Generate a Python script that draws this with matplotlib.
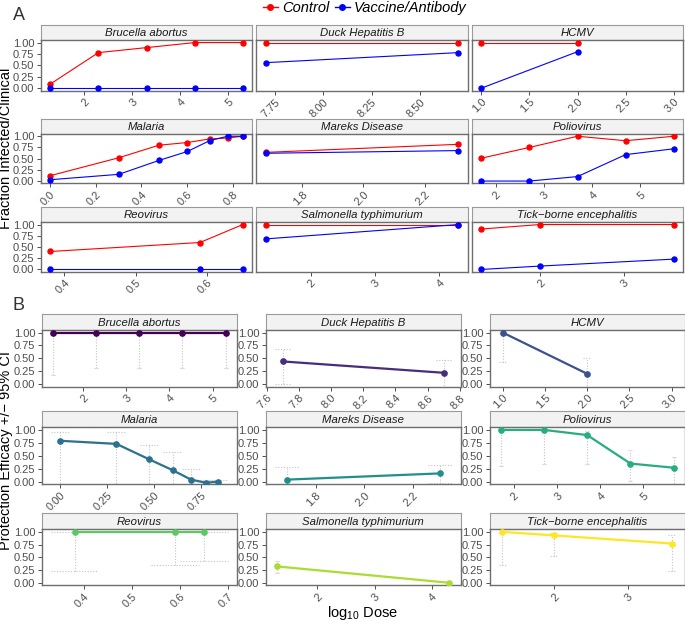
import numpy as np
import matplotlib
matplotlib.use("Agg")
import matplotlib.pyplot as plt
from matplotlib.lines import Line2D

plt.rcParams['font.family'] = ['Liberation Sans', 'DejaVu Sans']
plt.rcParams['mathtext.fontset'] = 'custom'
plt.rcParams['mathtext.rm'] = 'Liberation Sans'
plt.rcParams['mathtext.default'] = 'regular'

# ---------------- data ----------------
pathogens = ["Brucella abortus", "Duck Hepatitis B", "HCMV",
             "Malaria", "Mareks Disease", "Poliovirus",
             "Reovirus", "Salmonella typhimurium", "Tick\u2212borne encephalitis"]

dose_brucella = [1.3, 2.3, 3.3, 4.3, 5.3]
ctrl_brucella = [0.09, 0.78, 0.89, 1.0, 1.0]
vacc_brucella = [0.0, 0.0, 0.0, 0.0, 0.0]
eff_brucella = [1.0, 1.0, 1.0, 1.0, 1.0]
lo_brucella = [0.18, 0.31, 0.31, 0.31, 0.31]
hi_brucella = [1.0, 1.0, 1.0, 1.0, 1.0]

dose_duck = [7.7, 8.7]
ctrl_duck = [1.0, 1.0]
vacc_duck = [0.56, 0.78]
eff_duck = [0.44, 0.22]
lo_duck = [0.01, -0.2]
hi_duck = [0.69, 0.46]

dose_hcmv = [1.0, 2.0, 3.0]
ctrl_hcmv = [1.0, 1.0, np.nan]
vacc_hcmv = [0.0, 0.8, np.nan]
eff_hcmv = [1.0, 0.2, np.nan]
lo_hcmv = [0.43, -0.2, np.nan]
hi_hcmv = [1.0, 0.50, np.nan]

dose_malaria = [0.0, 0.301, 0.477, 0.602, 0.699, 0.778, 0.845]
ctrl_malaria = [0.12, 0.52, 0.80, 0.86, 0.94, 0.96, 1.0]
vacc_malaria = [0.03, 0.15, 0.46, 0.66, 0.90, 1.0, 1.0]
eff_malaria = [0.79, 0.73, 0.43, 0.22, 0.04, -0.02, 0.0]
lo_malaria = [-0.3, -0.3, -0.3, -0.3, -0.3, -0.3, -0.3]
hi_malaria = [0.96, 0.95, 0.70, 0.57, 0.24, 0.03, 0.03]

dose_mareks = [1.68, 2.31]
ctrl_mareks = [0.64, 0.82]
vacc_mareks = [0.62, 0.68]
eff_mareks = [0.04, 0.16]
lo_mareks = [-0.3, -0.03]
hi_mareks = [0.28, 0.33]

dose_polio = [1.7, 2.7, 3.7, 4.7, 5.7]
ctrl_polio = [0.51, 0.75, 1.0, 0.90, 1.0]
vacc_polio = [0.0, 0.0, 0.10, 0.59, 0.72]
eff_polio = [1.0, 1.0, 0.90, 0.35, 0.27]
lo_polio = [0.30, 0.35, 0.35, 0.01, -0.3]
hi_polio = [1.0, 1.0, 0.98, 0.61, 0.48]

dose_reo = [0.38, 0.59, 0.65]
ctrl_reo = [0.40, 0.60, 1.0]
vacc_reo = [0.0, 0.0, 0.0]
eff_reo = [1.0, 1.0, 1.0]
lo_reo = [0.23, 0.34, 0.42]
hi_reo = [1.0, 1.0, 1.0]

dose_salm = [1.3, 4.3]
ctrl_salm = [1.0, 1.0]
vacc_salm = [0.68, 1.0]
eff_salm = [0.32, 0.0]
lo_salm = [0.20, np.nan]
hi_salm = [0.42, np.nan]

dose_tbe = [1.3, 2.0, 3.6]
ctrl_tbe = [0.90, 1.0, 1.0]
vacc_tbe = [0.0, 0.075, 0.23]
eff_tbe = [1.0, 0.93, 0.77]
lo_tbe = [0.35, 0.52, 0.24]
hi_tbe = [1.0, 0.98, 0.94]

ticks_a = [[2, 3, 4, 5], [7.75, 8.00, 8.25, 8.50], [1.0, 1.5, 2.0, 2.5, 3.0],
           [0.0, 0.2, 0.4, 0.6, 0.8], [1.8, 2.0, 2.2], [2, 3, 4, 5],
           [0.4, 0.5, 0.6], [2, 3, 4], [2, 3]]
labels_a = [["2", "3", "4", "5"], ["7.75", "8.00", "8.25", "8.50"],
            ["1.0", "1.5", "2.0", "2.5", "3.0"], ["0.0", "0.2", "0.4", "0.6", "0.8"],
            ["1.8", "2.0", "2.2"], ["2", "3", "4", "5"], ["0.4", "0.5", "0.6"],
            ["2", "3", "4"], ["2", "3"]]
ticks_b = [[2, 3, 4, 5], [7.6, 7.8, 8.0, 8.2, 8.4, 8.6, 8.8], [1.0, 1.5, 2.0, 2.5, 3.0],
           [0.0, 0.25, 0.5, 0.75], [1.8, 2.0, 2.2], [2, 3, 4, 5],
           [0.4, 0.5, 0.6, 0.7], [2, 3, 4], [2, 3]]
labels_b = [["2", "3", "4", "5"], ["7.6", "7.8", "8.0", "8.2", "8.4", "8.6", "8.8"],
            ["1.0", "1.5", "2.0", "2.5", "3.0"], ["0.00", "0.25", "0.50", "0.75"],
            ["1.8", "2.0", "2.2"], ["2", "3", "4", "5"], ["0.4", "0.5", "0.6", "0.7"],
            ["2", "3", "4"], ["2", "3"]]
y_ticks = [0.0, 0.25, 0.5, 0.75, 1.0]
y_labels = ["0.00", "0.25", "0.50", "0.75", "1.00"]

doses = [dose_brucella, dose_duck, dose_hcmv, dose_malaria, dose_mareks, dose_polio, dose_reo, dose_salm, dose_tbe]
ctrls = [ctrl_brucella, ctrl_duck, ctrl_hcmv, ctrl_malaria, ctrl_mareks, ctrl_polio, ctrl_reo, ctrl_salm, ctrl_tbe]
vaccs = [vacc_brucella, vacc_duck, vacc_hcmv, vacc_malaria, vacc_mareks, vacc_polio, vacc_reo, vacc_salm, vacc_tbe]
effs = [eff_brucella, eff_duck, eff_hcmv, eff_malaria, eff_mareks, eff_polio, eff_reo, eff_salm, eff_tbe]
los = [lo_brucella, lo_duck, lo_hcmv, lo_malaria, lo_mareks, lo_polio, lo_reo, lo_salm, lo_tbe]
his = [hi_brucella, hi_duck, hi_hcmv, hi_malaria, hi_mareks, hi_polio, hi_reo, hi_salm, hi_tbe]

viridis9 = ["#440154", "#472D7B", "#3B528B", "#2C728E", "#21908C",
            "#27AD81", "#5DC863", "#AADC32", "#FDE725"]
ctrl_color = "#FF0000"
vacc_color = "#0000FF"

# ---------------- layout ----------------
W, H = 685, 624
fig = plt.figure(figsize=(W / 100, H / 100), dpi=100)

def px_axes(x1, y1, x2, y2):
    return fig.add_axes([x1 / W, 1 - y2 / H, (x2 - x1) / W, (y2 - y1) / H])

cols_a = [(40.6, 252.4), (255.9, 468.0), (471.6, 683.4)]
rows_a = [(25.0, 40.3, 90.5), (118.5, 134.0, 183.3), (206.8, 222.3, 271.7)]
cols_b = [(41.7, 236.7), (265.7, 460.7), (489.7, 684.7)]
rows_b = [(314.3, 330.0, 386.7), (410.5, 427.3, 484.3), (513.3, 529.3, 585.3)]

tick_col = "#4D4D4D"
border_col = "#6E6E6E"
strip_edge = "#9A9A9A"
tfs = 8.0

def style_axes(ax, show_y):
    for s in ax.spines.values():
        s.set_color(border_col)
        s.set_linewidth(1.0)
    ax.tick_params(axis='both', colors="#333333", labelcolor=tick_col,
                   labelsize=tfs, length=3, width=0.6, pad=1.5)
    ax.set_yticks(y_ticks)
    if show_y:
        ax.set_yticklabels(y_labels)
    else:
        ax.set_yticklabels([])
        ax.tick_params(axis='y', length=0)

def add_strip(x1, x2, ys, ye, name):
    sax = px_axes(x1, ys, x2, ye)
    sax.set_facecolor("#F2F2F2")
    for s in sax.spines.values():
        s.set_color(strip_edge)
        s.set_linewidth(0.8)
    sax.set_xticks([])
    sax.set_yticks([])
    sax.text(0.5, 0.45, name, transform=sax.transAxes, ha='center', va='center',
             fontsize=8.2, style='italic', color="#1A1A1A")

def set_xticks(ax, ticks, labels):
    ax.set_xticks(ticks)
    ax.set_xticklabels(labels, rotation=45, ha='right', va='top', rotation_mode='anchor')

# Panel A
for i, name in enumerate(pathogens):
    r, c = divmod(i, 3)
    x1, x2 = cols_a[c]
    ys, yt, yb = rows_a[r]
    add_strip(x1, x2, ys, yt, name)
    ax = px_axes(x1, yt, x2, yb)
    d = np.array(doses[i], dtype=float)
    lo, hi = np.nanmin(d), np.nanmax(d)
    pad = 0.05 * (hi - lo)
    ax.set_xlim(lo - pad, hi + pad)
    ax.set_ylim(-0.05, 1.05)
    ax.plot(d, ctrls[i], color=ctrl_color, lw=0.8, marker='o', ms=3.6, zorder=3)
    ax.plot(d, vaccs[i], color=vacc_color, lw=0.8, marker='o', ms=3.6, zorder=3)
    style_axes(ax, c == 0)
    set_xticks(ax, ticks_a[i], labels_a[i])

# Panel B
cap = 0.05
for i, name in enumerate(pathogens):
    r, c = divmod(i, 3)
    x1, x2 = cols_b[c]
    ys, yt, yb = rows_b[r]
    add_strip(x1, x2, ys, yt, name)
    ax = px_axes(x1, yt, x2, yb)
    d = np.array(doses[i], dtype=float)
    lo, hi = np.nanmin(d) - cap, np.nanmax(d) + cap
    pad = 0.05 * (hi - lo)
    ax.set_xlim(lo - pad, hi + pad)
    ax.set_ylim(-0.05, 1.05)
    lo_ci = np.array(los[i], dtype=float)
    hi_ci = np.array(his[i], dtype=float)
    ok = ~np.isnan(lo_ci)
    ax.vlines(d[ok], lo_ci[ok], hi_ci[ok], colors="#C4C4C4", linestyles=(0, (1, 1.5)), lw=0.8, zorder=1)
    ax.hlines(lo_ci[ok], d[ok] - cap, d[ok] + cap, colors="#C4C4C4", linestyles=(0, (1, 1.5)), lw=0.8, zorder=1)
    ax.hlines(hi_ci[ok], d[ok] - cap, d[ok] + cap, colors="#C4C4C4", linestyles=(0, (1, 1.5)), lw=0.8, zorder=1)
    ax.plot(d, effs[i], color=viridis9[i], lw=1.6, marker='o', ms=3.8, zorder=3)
    style_axes(ax, True)
    set_xticks(ax, ticks_b[i], labels_b[i])

# Legend
handles = [Line2D([], [], color=ctrl_color, marker='o', ms=4, lw=1.0),
           Line2D([], [], color=vacc_color, marker='o', ms=4, lw=1.0)]
leg = fig.legend(handles, ["Control", "Vaccine/Antibody"], loc='center',
                 bbox_to_anchor=(365 / W, 1 - 8 / H), ncol=2, frameon=False,
                 handlelength=1.0, handletextpad=0.3, columnspacing=0.4,
                 prop={'style': 'italic', 'size': 10.5})

# Panel letters and axis titles
fig.text(19 / W, 1 - 15 / H, "A", fontsize=13, color="#333333", ha='center', va='center')
fig.text(18 / W, 1 - 306 / H, "B", fontsize=13, color="#333333", ha='center', va='center')
fig.text(6.5 / W, 1 - 148 / H, "Fraction Infected/Clinical", rotation=90,
         fontsize=10.5, ha='center', va='center')
fig.text(6.5 / W, 1 - 450 / H, "Protection Efficacy +/\u2212 95% CI", rotation=90,
         fontsize=10.5, ha='center', va='center')
fig.text(363 / W, 1 - 613 / H, r"log$_{10}$ Dose", fontsize=10.5, ha='center', va='center')

fig.savefig("out.png", dpi=100)
